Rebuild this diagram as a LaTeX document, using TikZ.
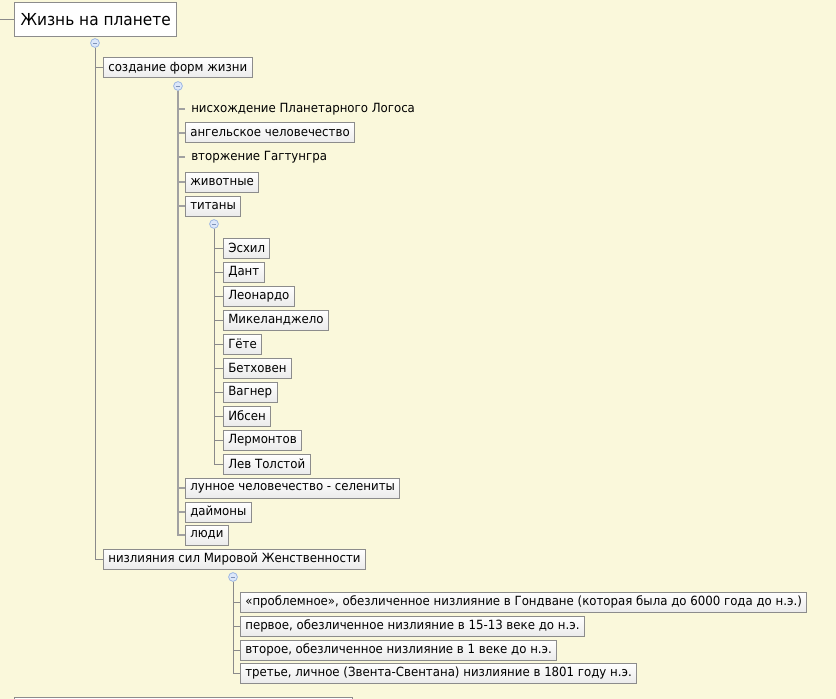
\documentclass[tikz,border=0pt]{standalone}
\usepackage{fontspec}
\setmainfont{DejaVu Sans}[FakeStretch=0.93]
\definecolor{bg}{HTML}{FAF8DB}
\definecolor{boxline}{HTML}{8C8C8C}
\definecolor{boxbot}{HTML}{EBEBEB}
\definecolor{conncol}{HTML}{8A8A8A}
\definecolor{togfill}{HTML}{DCE7FA}
\definecolor{togline}{HTML}{9DB7E3}
\newcommand{\fsmall}{\fontsize{9.5}{11}\selectfont}
\newcommand{\fbig}{\fontsize{12.4}{15}\selectfont}
\tikzset{
  box/.style={draw=boxline, line width=0.75pt, top color=white, bottom color=boxbot,
    minimum height=15pt, inner xsep=3.6pt, inner ysep=0pt, anchor=west, font=\fsmall, text=black},
  plain/.style={inner xsep=4.5pt, inner ysep=0pt, minimum height=15pt, anchor=west, font=\fsmall, text=black},
  rootbox/.style={draw=boxline, line width=0.75pt, fill=white, minimum height=25.5pt,
    inner xsep=4.5pt, anchor=west, font=\fbig, text=black},
  tog/.style={circle, draw=togline, fill=togfill, line width=0.6pt, minimum size=6.6pt, inner sep=0pt,
    path picture={\draw[togline!80!black, line width=0.6pt] ([xshift=-1.8pt]path picture bounding box.center) -- ([xshift=1.8pt]path picture bounding box.center);}},
  conn/.style={draw=conncol, line width=0.75pt},
  connthick/.style={draw=conncol!80, line width=1.3pt},
}
\begin{document}
\begin{tikzpicture}[x=0.75pt,y=-0.75pt]
\useasboundingbox (0,0) rectangle (836,699);
\fill[bg] (0,0) rectangle (836,699);

% root
\coordinate (lin) at (0,20);
\node[rootbox] (root) at (14,20) {Жизнь на планете};
\draw[conn] (lin) -- (root.west);
\node[tog] (t1) at (95,43) {};

% level 1
\node[box] (n1) at (103,68) {создание форм жизни};
\node[box] (n2) at (103,559) {низлияния сил Мировой Женственности};
\draw[conn] (t1.south) |- (n1.west);
\draw[conn] (t1.south) |- (n2.west);

% level 2 under n1
\node[tog] (t2) at (178,86) {};
\node[plain] (a1) at (185,109) {нисхождение Планетарного Логоса};
\node[box] (a2) at (185,133) {ангельское человечество};
\node[plain] (a3) at (185,157) {вторжение Гагтунгра};
\node[box] (a4) at (185,182) {животные};
\node[box] (a5) at (185,206) {титаны};
\node[box] (a6) at (185,488) {лунное человечество - селениты};
\node[box] (a7) at (185,512) {даймоны};
\node[box] (a8) at (185,535) {люди};
\foreach \n in {a1,a2,a3,a4,a5,a6,a7,a8}{\draw[connthick] (t2.south) |- (\n.west);}

% titans
\node[tog] (t3) at (214,224) {};
\node[box] (b1) at (223,248) {Эсхил};
\node[box] (b2) at (223,272) {Дант};
\node[box] (b3) at (223,296) {Леонардо};
\node[box] (b4) at (223,320) {Микеланджело};
\node[box] (b5) at (223,344) {Гёте};
\node[box] (b6) at (223,368) {Бетховен};
\node[box] (b7) at (223,392) {Вагнер};
\node[box] (b8) at (223,416) {Ибсен};
\node[box] (b9) at (223,440) {Лермонтов};
\node[box] (b10) at (223,464) {Лев Толстой};
\foreach \n in {b1,b2,b3,b4,b5,b6,b7,b8,b9,b10}{\draw[conn] (t3.south) |- (\n.west);}

% under n2
\node[tog] (t4) at (233,577) {};
\node[box] (c1) at (240,602) {«проблемное», обезличенное низлияние в Гондване (которая была до 6000 года до н.э.)};
\node[box] (c2) at (240,626) {первое, обезличенное низлияние в 15-13 веке до н.э.};
\node[box] (c3) at (240,650) {второе, обезличенное низлияние в 1 веке до н.э.};
\node[box] (c4) at (240,673) {третье, личное (Звента-Свентана) низлияние в 1801 году н.э.};
\foreach \n in {c1,c2,c3,c4}{\draw[conn] (t4.south) |- (\n.west);}

% partially visible next root
\begin{scope}
\clip (0,0) rectangle (836,699);
\node[draw=boxline, line width=0.75pt, fill=white, anchor=north west, minimum width=253.5pt, minimum height=22pt, inner sep=0pt] (next) at (14,697) {};
\end{scope}
\end{tikzpicture}
\end{document}
